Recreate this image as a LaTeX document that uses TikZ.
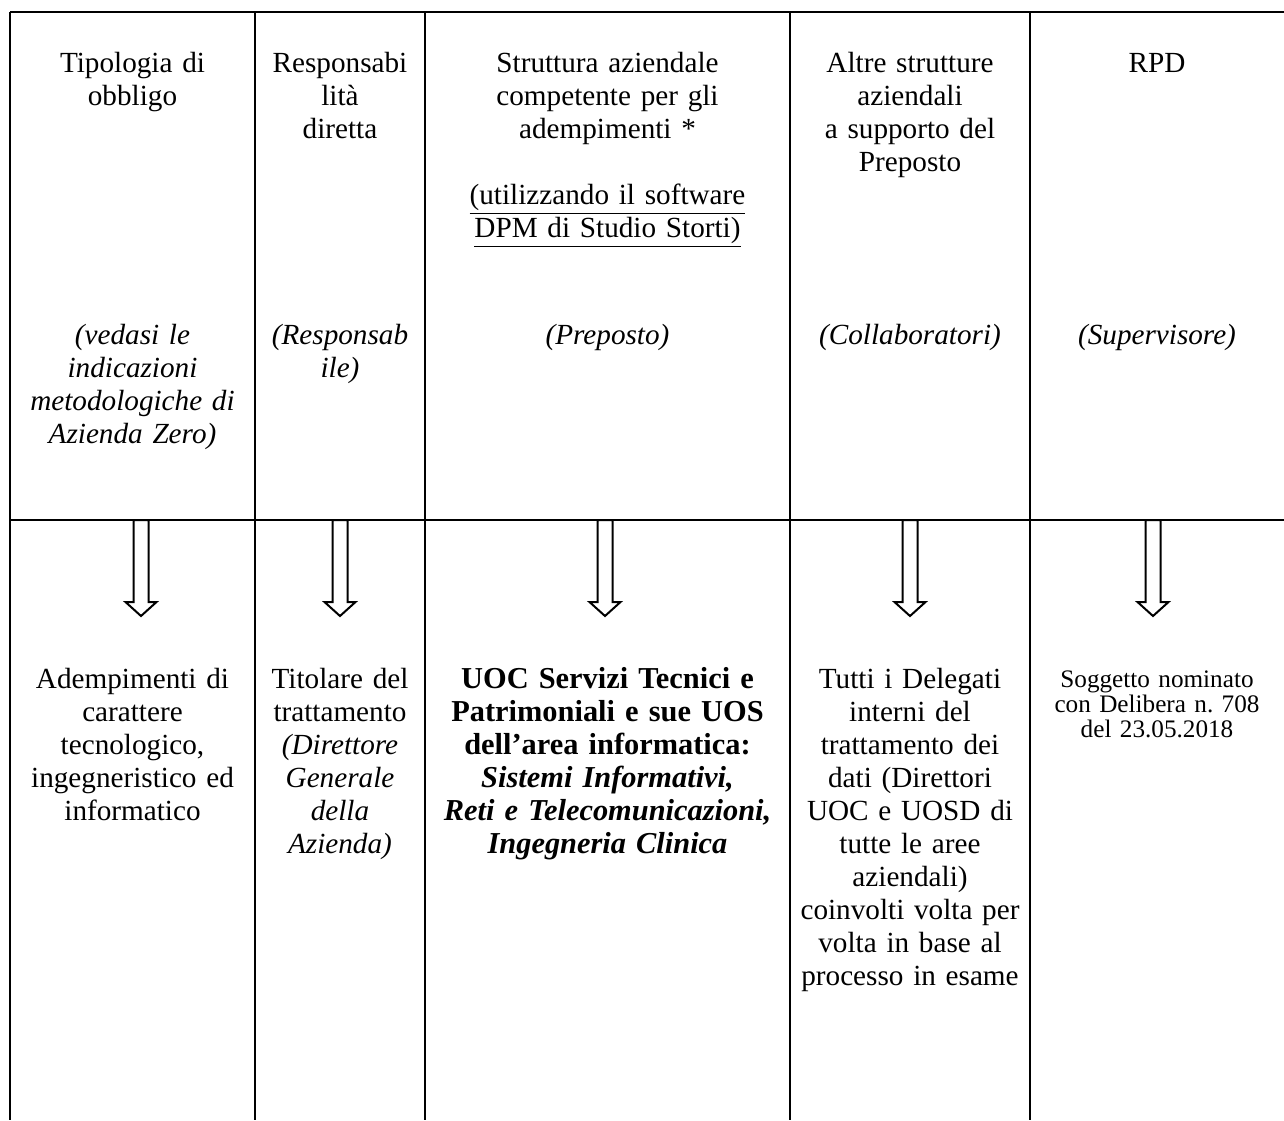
\documentclass[tikz,border=0pt]{standalone}
\usepackage{fontspec}
\setmainfont{Liberation Serif}
\frenchspacing
\begin{document}
\begin{tikzpicture}[x=0.5pt,y=-0.5pt,
  rule/.style={line width=1pt},
  cell/.style={align=center, inner sep=0pt, anchor=north, font=\fontsize{14.6}{16.5}\selectfont},
  boldcell/.style={align=center, inner sep=0pt, anchor=north, font=\fontsize{15.2}{16.5}\selectfont\bfseries},
  small/.style={align=center, inner sep=0pt, anchor=north, font=\fontsize{12.6}{12.5}\selectfont},
  downarrow/.pic={\draw[line width=1pt, fill=white] (-7.5,0) -- (-7.5,82) -- (-15.5,82) -- (0,96) -- (15.5,82) -- (7.5,82) -- (7.5,0) -- cycle;}]
\useasboundingbox (0,0) rectangle (1284,1120);
% grid
\coordinate (tl) at (10,12);
\coordinate (tr) at (1284,12);
\coordinate (ml) at (10,520);
\coordinate (mr) at (1284,520);
\draw[rule] (tl) -- (tr);
\draw[rule] (ml) -- (mr);
\foreach \xx in {10,255,425,790,1030} \draw[rule] (\xx,12) -- (\xx,1120);
% header row
\node[cell, text width=121pt] (h1) at (132.5,49) {\strut Tipologia di\\obbligo};
\node[cell, text width=121pt] (h1i) at (132.5,321) {\strut\itshape (vedasi le\\indicazioni\\metodologiche di\\Azienda Zero)};
\node[cell, text width=84pt] (h2) at (340,49) {\strut Responsabi\\lità\\diretta};
\node[cell, text width=84pt] (h2i) at (340,321) {\strut\itshape (Responsab\\ile)};
\node[cell, text width=180pt] (h3) at (607.5,49) {\strut Struttura aziendale\\competente per gli\\adempimenti *\\[16.5pt]\underline{(utilizzando il software}\\\underline{DPM di Studio Storti)}};
\node[cell, text width=180pt] (h3i) at (607.5,321) {\strut\itshape (Preposto)};
\node[cell, text width=119pt] (h4) at (910,49) {\strut Altre strutture\\aziendali\\a supporto del\\Preposto};
\node[cell, text width=119pt] (h4i) at (910,321) {\strut\itshape (Collaboratori)};
\node[cell, text width=126pt] (h5) at (1157,49) {\strut RPD};
\node[cell, text width=126pt] (h5i) at (1157,321) {\strut\itshape (Supervisore)};
% arrows
\coordinate (a1) at (141,520);
\coordinate (a2) at (340,520);
\coordinate (a3) at (605,520);
\coordinate (a4) at (910,520);
\coordinate (a5) at (1153,520);
\foreach \p in {a1,a2,a3,a4,a5} \pic at (\p) {downarrow};
% lower row
\node[cell, text width=121pt] (b1) at (132.5,665) {\strut Adempimenti di\\carattere\\tecnologico,\\ingegneristico ed\\informatico};
\node[cell, text width=84pt] (b2) at (340,665) {\strut Titolare del\\trattamento\\\itshape (Direttore\\Generale\\della\\Azienda)};
\node[boldcell, text width=181pt] (b3) at (607.5,665) {\strut UOC Servizi Tecnici e\\Patrimoniali e sue UOS\\dell’area informatica:\\\itshape Sistemi Informativi,\\Reti e Telecomunicazioni,\\Ingegneria Clinica};
\node[cell, text width=119pt] (b4) at (910,665) {\strut Tutti i Delegati\\interni del\\trattamento dei\\dati (Direttori\\UOC e UOSD di\\tutte le aree\\aziendali)\\coinvolti volta per\\volta in base al\\processo in esame};
\node[small, text width=126pt] (b5) at (1157,669.5) {\strut Soggetto nominato\\con Delibera n. 708\\del 23.05.2018};
\end{tikzpicture}
\end{document}
